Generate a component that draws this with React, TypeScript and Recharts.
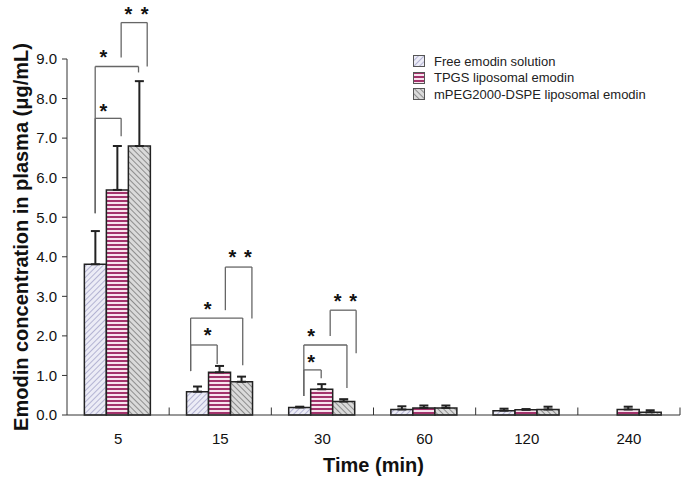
import * as React from 'react'
import { BarChart, Bar, XAxis, YAxis, ErrorBar, ReferenceLine, ReferenceDot, Legend, Label } from 'recharts'

const times = ['5', '15', '30', '60', '120', '240']
const freeMean = [3.81, 0.59, 0.19, 0.14, 0.11, 0]
const freeErr = [0.84, 0.13, 0.02, 0.08, 0.05, 0]
const tpgsMean = [5.69, 1.08, 0.65, 0.18, 0.13, 0.14]
const tpgsErr = [1.11, 0.16, 0.13, 0.06, 0.02, 0.07]
const mpegMean = [6.8, 0.84, 0.34, 0.18, 0.14, 0.07]
const mpegErr = [1.64, 0.13, 0.06, 0.06, 0.07, 0.05]
const yTicks = [0, 1, 2, 3, 4, 5, 6, 7, 8, 9]
const boundaries = [1, 2, 3, 4, 5, 6]

// significance brackets: group index, left/right offset within band, top, left/right foot
const brackets = [
  { g: 0, l: -0.224, r: 0.03, top: 7.5, lb: 5.1, rb: 7.05 },
  { g: 0, l: -0.224, r: 0.2, top: 8.81, lb: 5.1, rb: 8.66 },
  { g: 0, l: 0.03, r: 0.285, top: 9.92, lb: 9.04, rb: 8.81 },
  { g: 1, l: -0.29, r: -0.03, top: 1.77, lb: 1.11, rb: 1.29 },
  { g: 1, l: -0.29, r: 0.22, top: 2.45, lb: 1.11, rb: 1.26 },
  { g: 1, l: 0.05, r: 0.31, top: 3.74, lb: 2.65, rb: 2.44 },
  { g: 2, l: -0.182, r: -0.012, top: 1.14, lb: 0.48, rb: 0.93 },
  { g: 2, l: -0.182, r: 0.24, top: 1.77, lb: 0.48, rb: 0.68 },
  { g: 2, l: 0.076, r: 0.33, top: 2.65, lb: 2.0, rb: 1.56 },
]
const stars = [
  { g: 0, dx: -0.143, y: 7.78 }, { g: 0, dx: -0.143, y: 9.14 },
  { g: 0, dx: 0.1, y: 10.23 }, { g: 0, dx: 0.26, y: 10.23 },
  { g: 1, dx: -0.124, y: 2.12 }, { g: 1, dx: -0.124, y: 2.78 },
  { g: 1, dx: 0.12, y: 4.09 }, { g: 1, dx: 0.27, y: 4.09 },
  { g: 2, dx: -0.11, y: 1.45 }, { g: 2, dx: -0.11, y: 2.1 },
  { g: 2, dx: 0.15, y: 2.99 }, { g: 2, dx: 0.3, y: 2.99 },
]

const rows = times.map((t, i) => ({
  time: t,
  slot: i + 0.5,
  free: freeMean[i], freeE: [0, freeErr[i]],
  tpgs: tpgsMean[i], tpgsE: [0, tpgsErr[i]],
  mpeg: mpegMean[i], mpegE: [0, mpegErr[i]],
}))

const FONT = '"Liberation Sans", Arial, sans-serif'
const bx = (g: number, d: number) => g + 0.5 + d

function Star(p: any) {
  return <text x={p.cx} y={p.cy + 11} textAnchor="middle" fontSize={20} fontWeight="bold" fontFamily={FONT} fill="#111">*</text>
}

function LegendBox(props: any) {
  const items = props.payload || []
  return (
    <div style={{ fontFamily: FONT, fontSize: 13, color: '#222' }}>
      {items.map((it: any) => (
        <div key={it.value} style={{ display: 'flex', alignItems: 'center', height: 16.5 }}>
          <svg width={21} height={12}>
            <rect x={0.5} y={0.5} width={11} height={11} fill={it.payload?.fill || it.color} stroke="#555" />
          </svg>
          <span>{it.value}</span>
        </div>
      ))}
    </div>
  )
}

export default function App() {
  return (
    <div style={{ position: 'absolute', left: 0, top: 0, width: 689, height: 483, background: '#fff' }}>
      <BarChart width={689} height={483} data={rows} margin={{ top: 59, right: 9, left: 22, bottom: 0 }}
        barCategoryGap="17%" barGap={0}>
        <defs>
          <pattern id="pFree" patternUnits="userSpaceOnUse" width={4} height={4} patternTransform="rotate(45)">
            <rect width={4} height={4} fill="#ececf6" />
            <line x1={0} y1={0} x2={0} y2={4} stroke="#9c9cc4" strokeWidth={1.4} />
          </pattern>
          <pattern id="pTpgs" patternUnits="userSpaceOnUse" width={4} height={4}>
            <rect width={4} height={4} fill="#f7e4ee" />
            <rect width={4} height={2} fill="#a3336c" />
          </pattern>
          <pattern id="pMpeg" patternUnits="userSpaceOnUse" width={4} height={4} patternTransform="rotate(-45)">
            <rect width={4} height={4} fill="#dadada" />
            <line x1={0} y1={0} x2={0} y2={4} stroke="#6c6c6c" strokeWidth={1.4} />
          </pattern>
        </defs>
        <XAxis xAxisId="c" dataKey="time" height={68} tickLine={false} tickSize={8} tickMargin={10}
          axisLine={{ stroke: '#333' }} tick={{ fontSize: 15, fill: '#111', fontFamily: FONT }}>
          <Label content={(p: any) => (
            <text x={p.viewBox.x + p.viewBox.width / 2} y={472} textAnchor="middle" fontSize={20}
              fontWeight="bold" fontFamily={FONT} fill="#111">Time (min)</text>
          )} />
        </XAxis>
        <XAxis xAxisId="n" dataKey="slot" type="number" domain={[0, 6]} hide allowDataOverflow />
        <YAxis domain={[0, 9]} ticks={yTicks} width={45} tickSize={5} tickMargin={5} interval={0}
          tickFormatter={(v: number) => v.toFixed(1)} axisLine={{ stroke: '#333' }} tickLine={{ stroke: '#333' }}
          tick={{ fontSize: 15, fill: '#111', fontFamily: FONT }}>
          <Label content={(p: any) => (
            <text x={0} y={0} transform={`translate(28, ${p.viewBox.y + p.viewBox.height / 2}) rotate(-90)`}
              textAnchor="middle" fontSize={20} fontWeight="bold" fontFamily={FONT} fill="#111">
              Emodin concentration in plasma (μg/mL)
            </text>
          )} />
        </YAxis>
        <Legend layout="vertical" align="center" verticalAlign="middle" content={<LegendBox />}
          wrapperStyle={{ position: 'absolute', left: 413, top: 53, width: 270 }} />
        <Bar xAxisId="c" dataKey="free" name="Free emodin solution" fill="url(#pFree)" stroke="#222" strokeWidth={1.5} isAnimationActive={false}>
          <ErrorBar dataKey="freeE" width={4.5} stroke="#222" strokeWidth={2} direction="y" />
        </Bar>
        <Bar xAxisId="c" dataKey="tpgs" name="TPGS liposomal emodin" fill="url(#pTpgs)" stroke="#222" strokeWidth={1.5} isAnimationActive={false}>
          <ErrorBar dataKey="tpgsE" width={4.5} stroke="#222" strokeWidth={2} direction="y" />
        </Bar>
        <Bar xAxisId="c" dataKey="mpeg" name="mPEG2000-DSPE liposomal emodin" fill="url(#pMpeg)" stroke="#222" strokeWidth={1.5} isAnimationActive={false}>
          <ErrorBar dataKey="mpegE" width={4.5} stroke="#222" strokeWidth={2} direction="y" />
        </Bar>
        {boundaries.map(b => (
          <ReferenceLine key={'b' + b} xAxisId="n" ifOverflow="visible" stroke="#333"
            segment={[{ x: b, y: 0 }, { x: b, y: 0.19 }]} />
        ))}
        {brackets.flatMap((k, i) => {
          const L = bx(k.g, k.l), R = bx(k.g, k.r)
          return [
            <ReferenceLine key={'l' + i} xAxisId="n" ifOverflow="visible" stroke="#666" strokeWidth={1.3}
              segment={[{ x: L, y: k.lb }, { x: L, y: k.top }]} />,
            <ReferenceLine key={'h' + i} xAxisId="n" ifOverflow="visible" stroke="#666" strokeWidth={1.3}
              segment={[{ x: L, y: k.top }, { x: R, y: k.top }]} />,
            <ReferenceLine key={'r' + i} xAxisId="n" ifOverflow="visible" stroke="#666" strokeWidth={1.3}
              segment={[{ x: R, y: k.top }, { x: R, y: k.rb }]} />,
          ]
        })}
        {stars.map((s, i) => (
          <ReferenceDot key={'s' + i} xAxisId="n" x={bx(s.g, s.dx)} y={s.y} r={0} ifOverflow="visible" shape={<Star />} />
        ))}
      </BarChart>
    </div>
  )
}
